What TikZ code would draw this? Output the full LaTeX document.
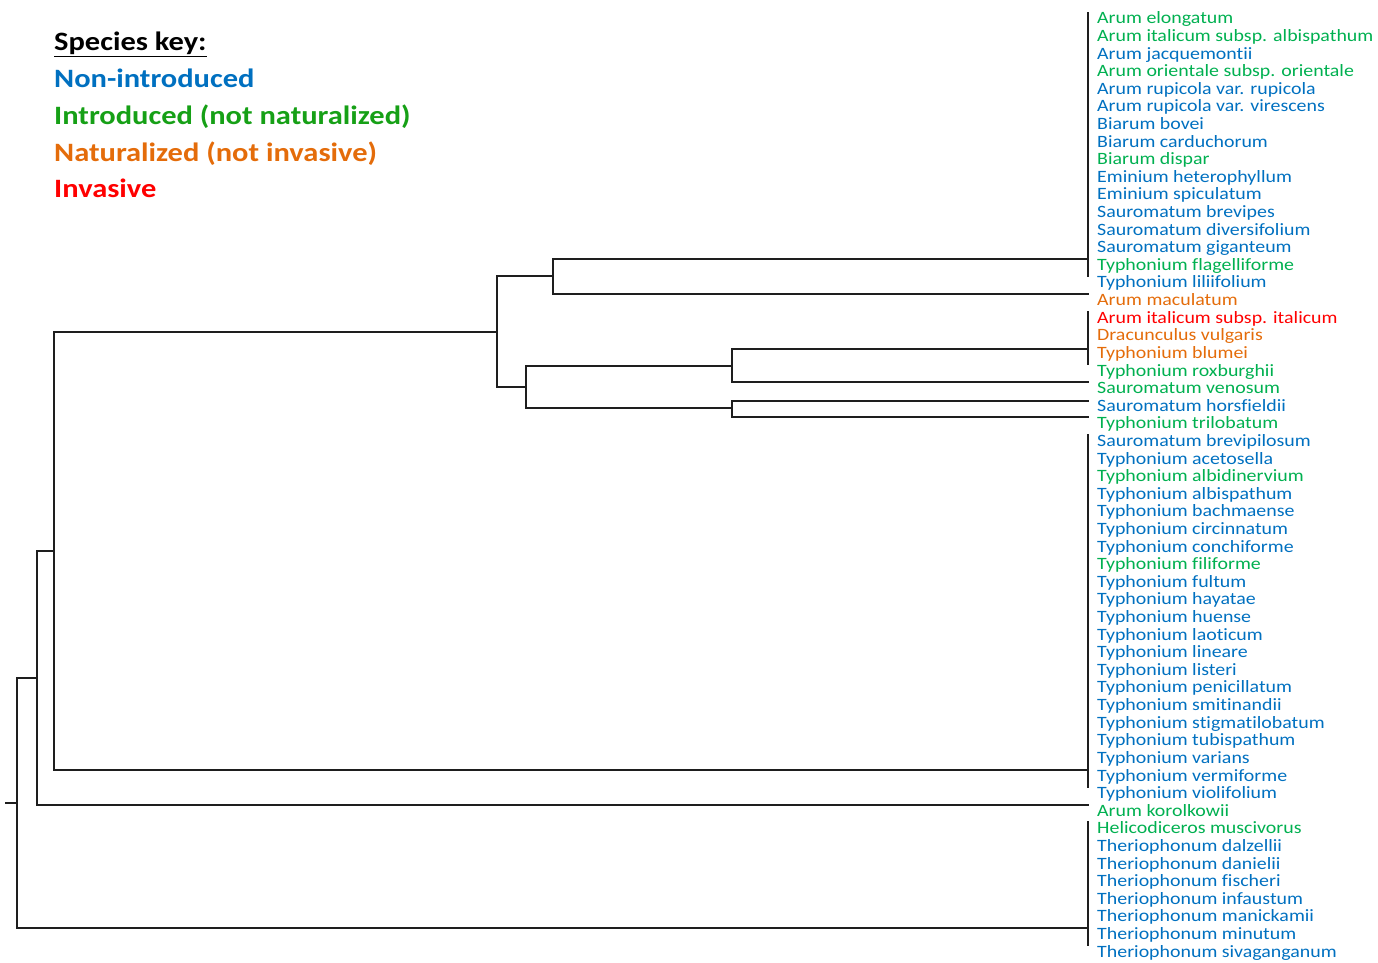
\documentclass[tikz,border=0pt]{standalone}
\usepackage{fontspec}
\setmainfont{Carlito}
\newfontfamily\widefont[FakeStretch=1.15,Ligatures={NoCommon}]{Carlito}
\definecolor{cB}{RGB}{0,112,192}
\definecolor{cG}{RGB}{0,176,80}
\definecolor{cO}{RGB}{228,108,10}
\definecolor{cR}{RGB}{255,0,0}
\definecolor{keygreen}{RGB}{22,160,22}
\definecolor{treeline}{RGB}{30,30,30}
\tikzset{
  branch/.style={draw=treeline,line width=1.5pt,line cap=rect},
  leaflabel/.style={anchor=base west,inner sep=0pt,font=\widefont\fontsize{17.3}{18}\selectfont},
  keytext/.style={anchor=base west,inner sep=0pt,font=\widefont\fontsize{26.5}{30}\selectfont\bfseries}
}
\begin{document}
\begin{tikzpicture}[x=1pt,y=-1pt]
\useasboundingbox (0,0) rectangle (1378,963);
% legend
\node[keytext,text=black] (k0) at (54,50.5) {\underline{Species key:}};
\node[keytext,text=cB] (k1) at (54,87.5) {Non-introduced};
\node[keytext,text=keygreen] (k2) at (54,124.5) {Introduced (not naturalized)};
\node[keytext,text=cO] (k3) at (54,161) {Naturalized (not invasive)};
\node[keytext,text=cR] (k4) at (54,197) {Invasive};
% leaf labels
\foreach \c/\t [count=\i] in {
cG/Arum elongatum, cG/Arum italicum subsp. albispathum, cB/Arum jacquemontii,
cG/Arum orientale subsp. orientale, cB/Arum rupicola var. rupicola, cB/Arum rupicola var. virescens,
cB/Biarum bovei, cB/Biarum carduchorum, cG/Biarum dispar, cB/Eminium heterophyllum,
cB/Eminium spiculatum, cB/Sauromatum brevipes, cB/Sauromatum diversifolium, cB/Sauromatum giganteum,
cG/Typhonium flagelliforme, cB/Typhonium liliifolium, cO/Arum maculatum, cR/Arum italicum subsp. italicum,
cO/Dracunculus vulgaris, cO/Typhonium blumei, cG/Typhonium roxburghii, cG/Sauromatum venosum,
cB/Sauromatum horsfieldii, cG/Typhonium trilobatum, cB/Sauromatum brevipilosum, cB/Typhonium acetosella,
cG/Typhonium albidinervium, cB/Typhonium albispathum, cB/Typhonium bachmaense, cB/Typhonium circinnatum,
cB/Typhonium conchiforme, cG/Typhonium filiforme, cB/Typhonium fultum, cB/Typhonium hayatae,
cB/Typhonium huense, cB/Typhonium laoticum, cB/Typhonium lineare, cB/Typhonium listeri,
cB/Typhonium penicillatum, cB/Typhonium smitinandii, cB/Typhonium stigmatilobatum, cB/Typhonium tubispathum,
cB/Typhonium varians, cB/Typhonium vermiforme, cB/Typhonium violifolium, cG/Arum korolkowii,
cG/Helicodiceros muscivorus, cB/Theriophonum dalzellii, cB/Theriophonum danielii, cB/Theriophonum fischeri,
cB/Theriophonum infaustum, cB/Theriophonum manickamii, cB/Theriophonum minutum, cB/Theriophonum sivaganganum}
{ \node[leaflabel,text=\c] (l\i) at (1097,{23.8+17.61*(\i-1)}) {\t}; }
% tree coordinates
\coordinate (stub) at (6,803);
\coordinate (root) at (17,803);
\coordinate (n1) at (37,678);
\coordinate (n2) at (54,551);
\coordinate (n3) at (497,332);
\coordinate (n4) at (553,276);
\coordinate (n5) at (526,387);
\coordinate (n6) at (732,366);
\coordinate (n7) at (732,408);
\coordinate (gA) at (1088,259);
\coordinate (mac) at (1088,294);
\coordinate (gB) at (1088,349);
\coordinate (ven) at (1088,382);
\coordinate (hor) at (1088,401);
\coordinate (tri) at (1088,417);
\coordinate (gC) at (1088,770);
\coordinate (kor) at (1088,805);
\coordinate (gD) at (1088,928);
\coordinate (gAt) at (1088,13);
\coordinate (gAb) at (1088,276);
\coordinate (gBt) at (1088,312);
\coordinate (gBb) at (1088,364);
\coordinate (gCt) at (1088,435);
\coordinate (gCb) at (1088,787);
\coordinate (gDt) at (1088,822);
\coordinate (gDb) at (1088,945);
% branches
\draw[branch] (stub) -- (root);
\draw[branch] (root) |- (n1);
\draw[branch] (root) |- (gD);
\draw[branch] (n1) |- (n2);
\draw[branch] (n1) |- (kor);
\draw[branch] (n2) |- (n3);
\draw[branch] (n2) |- (gC);
\draw[branch] (n3) |- (n4);
\draw[branch] (n3) |- (n5);
\draw[branch] (n4) |- (gA);
\draw[branch] (n4) |- (mac);
\draw[branch] (n5) |- (n6);
\draw[branch] (n5) |- (n7);
\draw[branch] (n6) |- (gB);
\draw[branch] (n6) |- (ven);
\draw[branch] (n7) |- (hor);
\draw[branch] (n7) |- (tri);
% group bars
\draw[branch] (gAt) -- (gAb);
\draw[branch] (gBt) -- (gBb);
\draw[branch] (gCt) -- (gCb);
\draw[branch] (gDt) -- (gDb);
\end{tikzpicture}
\end{document}
